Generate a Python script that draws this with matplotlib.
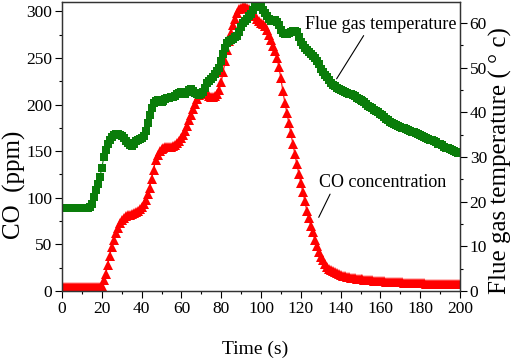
import matplotlib
matplotlib.use("Agg")
import matplotlib.pyplot as plt
import numpy as np
from matplotlib.ticker import MultipleLocator

plt.rcParams["font.family"] = ["Liberation Serif", "DejaVu Serif"]

# time in seconds, one sample per second
time_s = np.arange(0, 201)

co_ppm = [
    4, 4, 4, 4, 4, 4, 4, 4, 4, 4,
    4, 4, 4, 4, 4, 4, 4, 4, 4, 4,
    5, 12, 18, 28, 38, 47, 55, 62, 68, 73,
    76, 78, 80, 81, 82, 83, 84, 85, 86, 88,
    90, 93, 98, 104, 111, 120, 130, 140, 146, 150,
    152, 153, 154, 154, 155, 155, 156, 157, 159, 161,
    164, 167, 172, 177, 183, 189, 195, 201, 206, 210,
    212, 213, 212, 211, 209, 208, 208, 209, 211, 216,
    224, 235, 247, 258, 268, 277, 285, 292, 298, 302,
    304, 305, 305, 304, 302, 300, 298, 295, 292, 290,
    288, 286, 284, 280, 275, 269, 263, 257, 250, 240,
    228, 214, 202, 191, 180, 169, 158, 147, 136, 126,
    116, 106, 97, 86, 78, 70, 63, 55, 48, 42,
    37, 33, 29, 26, 24, 22, 21, 20, 19, 18,
    17, 16, 16, 15, 15, 14, 14, 14, 13, 13,
    13, 13, 12, 12, 12, 12, 12, 11, 11, 11,
    11, 11, 11, 10, 10, 10, 10, 10, 10, 10,
    10, 10, 9, 9, 9, 9, 9, 9, 9, 9,
    9, 9, 9, 8, 8, 8, 8, 8, 8, 8,
    8, 8, 8, 8, 8, 8, 8, 8, 8, 8,
    8,
]

flue_temp = [
    18.5, 18.5, 18.5, 18.5, 18.5, 18.5, 18.5, 18.5, 18.5, 18.5,
    18.5, 18.5, 18.5, 18.6, 18.8, 19.5, 21.0, 22.5, 24.0, 25.5,
    27.5, 30.0, 31.5, 32.8, 33.8, 34.5, 35.0, 35.2, 35.2, 35.0,
    34.7, 34.2, 33.6, 33.1, 32.7, 32.5, 33.0, 33.5, 33.8, 34.0,
    34.3, 34.8, 35.8, 37.5, 39.5, 41.0, 42.0, 42.5, 42.7, 42.5,
    42.3, 42.6, 43.0, 43.2, 43.3, 43.4, 43.5, 43.7, 44.0, 44.3,
    44.5, 44.4, 44.2, 44.5, 45.0, 45.2, 44.8, 44.3, 44.0, 43.8,
    44.0, 44.5, 45.5, 46.5, 47.0, 47.5, 48.0, 48.6, 49.2, 50.0,
    51.5, 53.0, 54.5, 55.5, 56.0, 56.3, 56.5, 56.8, 57.2, 58.0,
    59.0, 60.0, 60.5, 61.0, 61.5, 62.0, 62.8, 63.5, 63.8, 64.0,
    63.7, 63.0, 62.3, 61.5, 60.8, 60.5, 60.5, 60.7, 60.3, 59.5,
    58.5, 57.8, 57.5, 57.6, 57.8, 58.0, 58.1, 58.2, 58.0, 56.8,
    55.8, 55.0, 54.5, 54.0, 53.5, 53.0, 52.5, 52.1, 51.6, 50.8,
    49.8, 49.0, 48.4, 47.8, 47.2, 46.6, 46.1, 45.8, 45.5, 45.2,
    45.0, 44.8, 44.6, 44.4, 44.2, 44.0, 43.8, 43.6, 43.3, 43.0,
    42.8, 42.6, 42.3, 41.9, 41.5, 41.2, 40.9, 40.6, 40.3, 40.0,
    39.7, 39.4, 39.0, 38.6, 38.2, 37.9, 37.6, 37.3, 37.1, 36.9,
    36.7, 36.6, 36.4, 36.2, 36.0, 35.8, 35.7, 35.5, 35.3, 35.1,
    34.9, 34.7, 34.5, 34.3, 34.1, 33.9, 33.7, 33.5, 33.3, 33.0,
    32.8, 32.6, 32.3, 32.1, 32.0, 31.8, 31.6, 31.4, 31.2, 31.0,
    30.9,
]

RED = "#ff0000"
GREEN = "#0a7d0a"

fig = plt.figure(figsize=(5.12, 3.61), dpi=100)
ax = fig.add_axes([62 / 512, 1 - 291 / 361, 398 / 512, 289 / 361])
ax2 = ax.twinx()

ax.plot(time_s, co_ppm, color=RED, linewidth=0.8, marker="^",
        markersize=7, markeredgewidth=0)
ax2.plot(time_s, flue_temp, color=GREEN, linewidth=0.8, marker="s",
         markersize=5.5, markeredgewidth=0)

ax.set_xlim(0, 200)
ax.set_ylim(0, 310)
ax2.set_ylim(0, 64.7)

ax.xaxis.set_major_locator(MultipleLocator(20))
ax.xaxis.set_minor_locator(MultipleLocator(10))
ax.yaxis.set_major_locator(MultipleLocator(50))
ax.yaxis.set_minor_locator(MultipleLocator(25))
ax2.yaxis.set_major_locator(MultipleLocator(10))
ax2.yaxis.set_minor_locator(MultipleLocator(5))

for a in (ax, ax2):
    a.tick_params(which="major", direction="out", length=5, width=0.8,
                  labelsize=12.5, pad=2)
    a.tick_params(which="minor", direction="out", length=2.5, width=0.8)
    for s in a.spines.values():
        s.set_linewidth(0.9)
        s.set_color("#333333")

ax.set_xlabel("Time (s)", fontsize=14)
ax.xaxis.set_label_coords(0.485, -0.172)
ax.set_ylabel("CO  (ppm)", fontsize=18)
ax.yaxis.set_label_coords(-0.09, 0.367)
ax2.set_ylabel("Flue gas temperature ( ° c)", fontsize=18)
ax2.yaxis.set_label_coords(1.073, 0.453)

ax2.annotate("Flue gas temperature", xy=(138, 47.5), xytext=(122, 59.7),
             fontsize=13, ha="left", va="center",
             arrowprops=dict(arrowstyle="-", color="black", lw=0.8,
                             shrinkA=0, shrinkB=0, relpos=(0.4, 0.0)))
ax.annotate("CO concentration", xy=(129, 79), xytext=(129, 116),
            fontsize=13, ha="left", va="center",
            arrowprops=dict(arrowstyle="-", color="black", lw=0.8,
                            shrinkA=0, shrinkB=0, relpos=(0.1, 0.0)))

fig.savefig("out.png", dpi=100)
